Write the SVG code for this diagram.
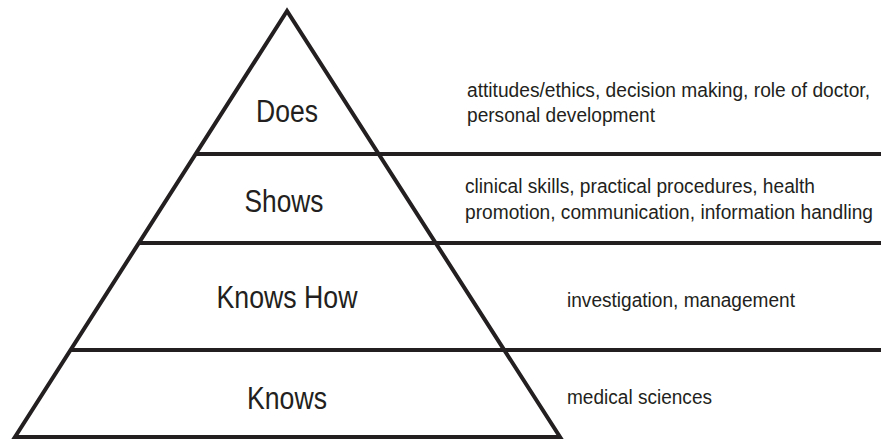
<svg xmlns="http://www.w3.org/2000/svg" width="881" height="439" viewBox="0 0 881 439">
<style>
.ln{stroke:#231f20;stroke-width:4;fill:none}
.lvl{font-family:"Liberation Sans",Arial,sans-serif;font-size:31px;fill:#231f20;text-anchor:middle}
.desc{font-family:"Liberation Sans",Arial,sans-serif;font-size:19.5px;fill:#231f20}
</style>
<rect width="881" height="439" fill="#fff"/>
<g id="connectors">
<polygon class="ln" points="287,11 15,437 560,437" stroke-linejoin="miter"/>
<line class="ln" x1="196" y1="154" x2="881" y2="154"/>
<line class="ln" x1="139" y1="243" x2="881" y2="243"/>
<line class="ln" x1="71" y1="350" x2="881" y2="350"/>
</g>
<g id="does">
<text class="lvl" x="287" y="122" textLength="62" lengthAdjust="spacingAndGlyphs">Does</text>
<text class="desc" x="467" y="97" textLength="403" lengthAdjust="spacingAndGlyphs">attitudes/ethics, decision making, role of doctor,</text>
<text class="desc" x="467" y="122" textLength="188" lengthAdjust="spacingAndGlyphs">personal development</text>
</g>
<g id="shows">
<text class="lvl" x="284" y="212" textLength="79" lengthAdjust="spacingAndGlyphs">Shows</text>
<text class="desc" x="465" y="193" textLength="350" lengthAdjust="spacingAndGlyphs">clinical skills, practical procedures, health</text>
<text class="desc" x="465" y="219" textLength="408" lengthAdjust="spacingAndGlyphs">promotion, communication, information handling</text>
</g>
<g id="knowshow">
<text class="lvl" x="287" y="308" textLength="141" lengthAdjust="spacingAndGlyphs">Knows How</text>
<text class="desc" x="567" y="307" textLength="228" lengthAdjust="spacingAndGlyphs">investigation, management</text>
</g>
<g id="knows">
<text class="lvl" x="287" y="409" textLength="80" lengthAdjust="spacingAndGlyphs">Knows</text>
<text class="desc" x="567" y="404" textLength="145" lengthAdjust="spacingAndGlyphs">medical sciences</text>
</g>
</svg>
